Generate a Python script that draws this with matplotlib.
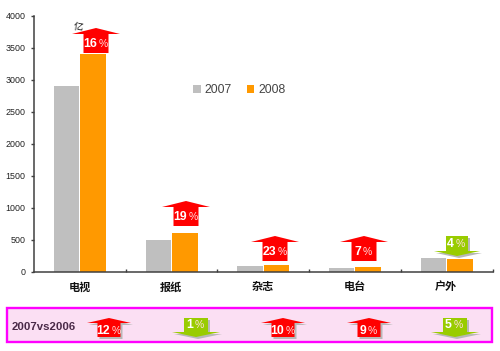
import matplotlib
matplotlib.use("Agg")
import matplotlib.pyplot as plt
from matplotlib.patches import Polygon, Rectangle

plt.rcParams['font.family'] = ['Liberation Sans', 'Noto Sans CJK SC', 'DejaVu Sans']

# Values (unit: yi)
categories = ["电视", "报纸", "杂志", "电台", "户外"]
values_2007 = [2900, 490, 80, 50, 205]
values_2008 = [3400, 600, 105, 75, 197]
change_08 = [16, 19, 23, 7, 4]
up_08 = [True, True, True, True, False]
change_07 = [12, 1, 10, 9, 5]
up_07 = [True, False, True, True, False]
yticks = [0, 500, 1000, 1500, 2000, 2500, 3000, 3500, 4000]

W, H = 500, 351
GRAY = "#bfbfbf"
ORANGE = "#ff9900"
RED = "#ff0000"
GREEN = "#99cc00"
AXIS = "#404040"

fig = plt.figure(figsize=(W / 100, H / 100), dpi=100)

# Main chart
ax = fig.add_axes([34 / W, (H - 271.5) / H, 458.5 / W, 256 / H])
xs = list(range(len(categories)))
bw = 0.278
ax.bar([x - bw / 2 - 0.005 for x in xs], values_2007, bw, color=GRAY, label="2007")
ax.bar([x + bw / 2 + 0.005 for x in xs], values_2008, bw, color=ORANGE, label="2008")
ax.set_xlim(-0.5, 4.5)
ax.set_ylim(0, 4000)
ax.set_yticks(yticks)
ax.set_xticks([x - 0.5 for x in range(1, 6)])
ax.set_xticklabels([])
ax.tick_params(axis="y", direction="out", length=2, width=1, color=AXIS,
               labelsize=6.4, labelcolor="#222222", pad=4)
ax.tick_params(axis="x", direction="in", length=2, width=1, color=AXIS)
for s in ["top", "right"]:
    ax.spines[s].set_visible(False)
for s in ["left", "bottom"]:
    ax.spines[s].set_color(AXIS)
    ax.spines[s].set_linewidth(1.1)
for x, name in zip(xs, categories):
    ax.text(x - 0.005, -0.06, name, transform=ax.get_xaxis_transform(), ha="center", va="center",
            fontsize=8, fontweight="bold", color="#111111", family="Noto Sans CJK SC")

ax.legend(ncol=2, frameon=False, loc="center", bbox_to_anchor=(0.4475, 0.708), fontsize=8.8,
          labelcolor="#444444", handlelength=0.65, handleheight=0.65, handletextpad=0.3,
          columnspacing=1.2, borderpad=0, borderaxespad=0)

# Overlay in picture pixels for the callouts
ov = fig.add_axes([0, 0, 1, 1], zorder=5)
ov.set_xlim(0, W)
ov.set_ylim(H, 0)
ov.axis("off")


def arrow(cx, top, up, pct, hb, hw, wing, length, shadow=False):
    if up:
        pts = [(cx, top), (cx + hw, top + wing), (cx + hb, top + wing), (cx + hb, top + length),
               (cx - hb, top + length), (cx - hb, top + wing), (cx - hw, top + wing)]
        color = RED
        ty = top + wing + (length - wing) / 2 + 0.5
    else:
        pts = [(cx - hb, top), (cx + hb, top), (cx + hb, top + wing), (cx + hw, top + wing),
               (cx, top + length), (cx - hw, top + wing), (cx - hb, top + wing)]
        color = GREEN
        ty = top + wing / 2 + 0.5
    if shadow:
        ov.add_patch(Polygon([(a + 2, b + 2) for a, b in pts], closed=True, color="#b8b8b8", lw=0))
    ov.add_patch(Polygon(pts, closed=True, color=color, lw=0))
    # one digit numbers sit a bit further left in the box
    shift = 1 if pct >= 10 else -3
    ov.text(cx + shift, ty, str(pct), color="white", fontsize=8.8, fontweight="bold", ha="right", va="center")
    ov.text(cx + shift + 1.5, ty, "%", color="#ffdddd", fontsize=7.5, ha="left", va="center")


# upper row
centers_08 = [96, 186, 275, 364, 457]
tops_08 = [28, 201, 236, 236, 236]
for cx, top, pct, up in zip(centers_08, tops_08, change_08, up_08):
    if up:
        arrow(cx, top, True, pct, 12.5, 24, 6, 25)
    else:
        arrow(cx, top, False, pct, 11, 23, 15, 20, shadow=True)

ov.text(78, 27, "亿", fontsize=7, ha="center", va="center", color="#111111",
        family="Noto Sans CJK SC", rotation=-10)

# comparison strip
ov.add_patch(Rectangle((6.5, 308), 485.5, 34, facecolor="#fbdff3", edgecolor="#ff00ff", lw=1.7, zorder=0))
ov.text(12, 327.5, "2007vs2006", fontsize=8.2, fontweight="bold", color="#4a2a48", ha="left", va="center")
centers_07 = [109, 196, 283, 369, 455]
for cx, pct, up in zip(centers_07, change_07, up_07):
    if up:
        arrow(cx, 318, True, pct, 11.5, 22, 5, 19, shadow=True)
    else:
        arrow(cx, 318, False, pct, 12, 24, 14, 19, shadow=True)

fig.savefig("out.png", dpi=100)
